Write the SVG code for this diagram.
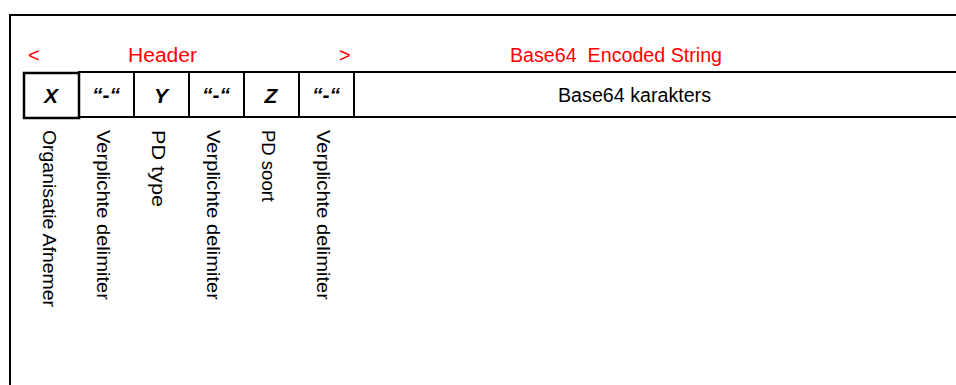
<svg xmlns="http://www.w3.org/2000/svg" width="956" height="385" viewBox="0 0 956 385">
<style>
.red{font-family:"Liberation Sans",Arial,sans-serif;font-size:20px;fill:#ff0000}
.cell{fill:#fff;stroke:#000;stroke-width:2}
.bi{font-family:"Liberation Sans",Arial,sans-serif;font-size:21px;font-weight:bold;font-style:italic;fill:#000;text-anchor:middle}
.lbl{font-family:"Liberation Sans",Arial,sans-serif;font-size:18.5px;fill:#000}
</style>
<rect width="956" height="385" fill="#fff"/>
<g id="frame">
<path d="M10,385 V15 H956" fill="none" stroke="#000" stroke-width="2"/>
</g>
<g id="titles">
<text class="red" x="28" y="62">&lt;</text>
<text class="red" x="128" y="62" textLength="69" lengthAdjust="spacingAndGlyphs">Header</text>
<text class="red" x="339" y="62">&gt;</text>
<text class="red" x="510" y="62" textLength="212" lengthAdjust="spacingAndGlyphs">Base64&#160; Encoded String</text>
</g>
<g id="fields">
<g id="node-rest"><rect class="cell" x="354" y="72" width="612" height="45"/>
<text class="lbl" x="558" y="102" textLength="153" lengthAdjust="spacingAndGlyphs" style="font-size:19.5px">Base64 karakters</text></g>
<g id="node-d3"><rect class="cell" x="299" y="72" width="55" height="45"/><text class="bi" x="326" y="102">“-“</text></g>
<g id="node-z"><rect class="cell" x="244" y="72" width="55" height="45"/><text class="bi" x="271" y="103">Z</text></g>
<g id="node-d2"><rect class="cell" x="189" y="72" width="55" height="45"/><text class="bi" x="216" y="102">“-“</text></g>
<g id="node-y"><rect class="cell" x="134" y="72" width="55" height="45"/><text class="bi" x="161" y="103">Y</text></g>
<g id="node-d1"><rect class="cell" x="79" y="72" width="55" height="45"/><text class="bi" x="106" y="102">“-“</text></g>
<g id="node-x"><rect class="cell" x="24" y="73" width="55" height="45" style="stroke-width:2.5"/><text class="bi" x="51" y="103">X</text></g>
</g>
<g id="labels">
<text class="lbl" transform="translate(43,130) rotate(90)" textLength="177" lengthAdjust="spacingAndGlyphs">Organisatie Afnemer</text>
<text class="lbl" transform="translate(97,130) rotate(90)" textLength="170" lengthAdjust="spacingAndGlyphs">Verplichte delimiter</text>
<text class="lbl" transform="translate(152,130) rotate(90)" textLength="77" lengthAdjust="spacingAndGlyphs">PD type</text>
<text class="lbl" transform="translate(207,130) rotate(90)" textLength="170" lengthAdjust="spacingAndGlyphs">Verplichte delimiter</text>
<text class="lbl" transform="translate(262,130) rotate(90)" textLength="72" lengthAdjust="spacingAndGlyphs">PD soort</text>
<text class="lbl" transform="translate(317,130) rotate(90)" textLength="170" lengthAdjust="spacingAndGlyphs">Verplichte delimiter</text>
</g>
</svg>
